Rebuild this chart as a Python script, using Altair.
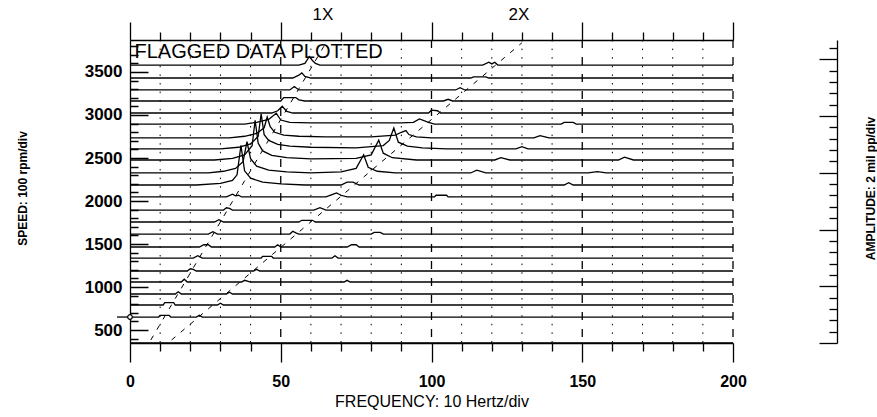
import altair as alt
import pandas as pd

# ---------------- data ----------------
# speed (rpm) of every cascade trace, top to bottom
speeds = [3581, 3430, 3291, 3163, 3023, 2895, 2733, 2605, 2477, 2326,
          2186, 2047, 1895, 1756, 1616, 1465, 1337, 1186, 1058, 919, 791, 651, 349]

# break points of every trace: (frequency Hz, amplitude mil); baseline elsewhere
trace_points = [
    [(56, 0), (58, 0.3), (59.5, 1.5), (60.5, 0.8), (61.5, 0.3), (63, 0),
     (117, 0), (119, 0.5), (120, 0.2), (121, 0.5), (122, 0)],
    [(54, 0), (56, 0.5), (57, 0.9), (58, 0.3), (60, 0),
     (113, 0), (114, 0.2), (118, 0.2), (119, 0)],
    [(53, 0), (54.5, 0.6), (56, 0),
     (108, 0), (109.5, 0.4), (111, 0)],
    [(50, 0), (51, 0.6), (55, 0.6), (56, 0.2), (58, 0),
     (104, 0), (105.5, 0.3), (107, 0)],
    [(47, 0), (49, 0.4), (50.5, 1.2), (52, 0.3), (54, 0),
     (99, 0), (100, 0.5), (102, 0.4), (103, 0)],
    [(38, 0), (42, 0.3), (46, 0.8), (48.5, 1.9), (50, 0.7), (53, 0.3), (60, 0.2),
     (90, 0.2), (94, 0.3), (96, 0.9), (99, 0.3), (101, 0),
     (143, 0), (144, 0.3), (147, 0.3), (148, 0)],
    [(33, 0), (38, 0.3), (42, 0.8), (44.5, 1.8), (45.5, 3.7), (46.5, 2.0), (48, 1.0), (51, 0.5),
     (56, 0.3), (65, 0.2), (80, 0.2), (88, 0.5), (90, 1.0), (91.5, 1.3), (92.5, 0.6), (95, 0.2), (100, 0),
     (134, 0), (136, 0.4), (139, 0)],
    [(30, 0), (36, 0.3), (40, 0.9), (42.5, 2.2), (43.5, 6.2), (44.5, 2.5), (46, 1.5), (49, 0.8),
     (53, 0.5), (60, 0.3), (75, 0.2), (84, 0.6), (86, 1.5), (87.5, 3.7), (89, 1.2), (92, 0.5), (97, 0.2),
     (105, 0), (128, 0), (130, 0.4), (132, 0)],
    [(28, 0), (34, 0.3), (38, 0.9), (40.5, 2.5), (41.5, 7.0), (42.5, 3.0), (44, 1.6), (47, 0.8),
     (52, 0.4), (60, 0.2), (75, 0.3), (80, 0.9), (82.5, 3.5), (84, 1.2), (87, 0.4), (95, 0),
     (121, 0), (123, 0.4), (126, 0), (162, 0), (164, 0.5), (167, 0)],
    [(26, 0), (31, 0.3), (35, 0.8), (37.5, 2.0), (38.8, 5.5), (40, 2.5), (42, 1.2), (46, 0.5),
     (52, 0.2), (60, 0), (70, 0.2), (75, 0.8), (77.5, 3.2), (79, 1.0), (82, 0.3), (88, 0),
     (113, 0), (115, 0.5), (118, 0), (152, 0), (155, 0.25), (158, 0)],
    [(22, 0), (30, 0.3), (34, 0.8), (35.5, 1.8), (36.8, 7.0), (38, 2.5), (40, 1.2), (44, 0.5),
     (50, 0.2), (58, 0), (70, 0), (72, 0.5), (74, 0.5), (76, 0),
     (144, 0), (145.5, 0.4), (147, 0)],
    [(32, 0), (34, 0.5), (35, 0.2), (36, 0.3), (37, 0),
     (65, 0), (67, 0.4), (68.5, 0.7), (70, 0.3), (72, 0),
     (101, 0), (101.5, 0.3), (105, 0.3), (105.5, 0)],
    [(31, 0), (32, 0.4), (33, 0.3), (34, 0), (61, 0), (63, 0.4), (65, 0)],
    [(28, 0), (29.5, 0.4), (31, 0), (56, 0), (57, 0.3), (60.5, 0.3), (61.5, 0)],
    [(26, 0), (27.5, 0.4), (29, 0), (53, 0), (54, 0.5), (55, 0.2), (56, 0),
     (80, 0), (81, 0.3), (83, 0.3), (84, 0)],
    [(23, 0), (24.5, 0.4), (26, 0.4), (27, 0), (48, 0), (49, 0.4), (50, 0),
     (72, 0), (73.5, 0.4), (75, 0.4), (76, 0)],
    [(21, 0), (22.5, 0.4), (24, 0), (43.5, 0), (44, 0.3), (47, 0.3), (47.5, 0),
     (67, 0), (68, 0.4), (69, 0)],
    [(19, 0), (20, 0.4), (21, 0.3), (22, 0), (41, 0), (42, 0.3), (43, 0)],
    [(17, 0), (18, 0.5), (19, 0), (37, 0), (38, 0.3), (40, 0), (71, 0), (72, 0.3), (73, 0)],
    [(15, 0), (16, 0.4), (17, 0), (32, 0), (33, 0.3), (34, 0)],
    [(11, 0), (11.5, 0.4), (14.5, 0.4), (15, 0), (29, 0), (30, 0.3), (31, 0)],
    [(9.5, 0), (10, 0.3), (13, 0.3), (13.5, 0), (22, 0), (23, 0.3), (24, 0)],
    [],
]

# order lines (frequency Hz, speed rpm) at their two ends
order_1x_freq = [6.9, 65.0]
order_1x_speed = [384, 3840]
order_2x_freq = [13.8, 130.0]
order_2x_speed = [384, 3840]

order_labels = ["1X", "2X"]
order_label_freq = [64.0, 129.0]
order_label_speed = [4160, 4160]

# "current speed" marker on the left edge
marker_freq = [0.0]
marker_speed = [651]
marker_stub_freq = [-4.3, 0.0]

grid_minor = [10, 20, 30, 40, 60, 70, 80, 90, 110, 120, 130, 140, 160, 170, 180, 190]
grid_major = [50, 100, 150, 200]
freq_ticks = list(range(0, 201, 10))
speed_labels = [500, 1000, 1500, 2000, 2500, 3000, 3500]
speed_ticks = list(range(400, 3801, 100))
amp_ticks = list(range(0, 53, 2))

SPEED_DOMAIN = [349, 3872]
AMP_DOMAIN = [0, 53.4]
RPM_PER_MIL = 66.0

# ---------------- tables ----------------
rows = []
for i, (s, pts) in enumerate(zip(speeds, trace_points)):
    allp = [(0.0, 0.0)] + sorted(pts) + [(200.0, 0.0)]
    for k, (f, a) in enumerate(allp):
        rows.append({"trace": i, "speed": s, "freq": f, "amp": a, "order": k})
traces = pd.DataFrame(rows)

orders = pd.DataFrame(
    [{"line": "1X", "freq": f, "speed": s, "o": k} for k, (f, s) in enumerate(zip(order_1x_freq, order_1x_speed))]
    + [{"line": "2X", "freq": f, "speed": s, "o": k} for k, (f, s) in enumerate(zip(order_2x_freq, order_2x_speed))]
)

FONT = "Liberation Sans"

x_scale = alt.Scale(domain=[0, 200], nice=False, zero=False)
y_scale = alt.Scale(domain=SPEED_DOMAIN, nice=False, zero=False)

grid_dot = alt.Chart(pd.DataFrame({"freq": grid_minor})).mark_rule(
    color="black", strokeWidth=1, strokeDash=[1.5, 7.1]
).encode(x=alt.X("freq:Q", scale=x_scale, axis=None))

grid_dash = alt.Chart(pd.DataFrame({"freq": grid_major})).mark_rule(
    color="black", strokeWidth=1.3, strokeDash=[8, 9]
).encode(x=alt.X("freq:Q", scale=x_scale, axis=None))

trace_layer = alt.Chart(traces).transform_calculate(
    ypos=f"datum.speed + datum.amp * {RPM_PER_MIL}"
).mark_line(color="black", strokeWidth=1.3, clip=False).encode(
    x=alt.X("freq:Q", scale=x_scale, axis=alt.Axis(
        orient="bottom", values=freq_ticks, grid=False, domain=True, domainColor="black",
        domainWidth=1.3, tickColor="black", tickWidth=1.3,
        tickSize={"condition": {"test": "datum.value % 50 === 0", "value": 19}, "value": 8},
        labelExpr="datum.value % 50 === 0 ? datum.label : ''",
        labelFont=FONT, labelFontSize=16, labelFontWeight="bold", labelColor="black",
        labelPadding=11, labelFlush=False,
        title="FREQUENCY: 10 Hertz/div", titleFont=FONT, titleFontSize=16,
        titleFontWeight="normal", titleColor="black", titlePadding=4,
    )),
    y=alt.Y("ypos:Q", scale=y_scale, axis=alt.Axis(
        orient="left", values=speed_labels, format="d", grid=False, ticks=False, domain=True,
        domainColor="black", domainWidth=1.3,
        labelFont=FONT, labelFontSize=17, labelFontWeight="bold", labelColor="black",
        labelPadding=8,
        title="SPEED: 100 rpm/div", titleFont=FONT, titleFontSize=12, titleFontWeight="bold",
        titleColor="black", titleX=-108, titleY=148, titleAngle=270,
        titleAlign="center", titleBaseline="middle",
    )),
    detail="trace:N",
    order="order:Q",
)

speed_tick_layer = alt.Chart(pd.DataFrame({"speed": speed_ticks})).mark_point(opacity=0).encode(
    x=alt.value(0),
    y=alt.Y("speed:Q", scale=y_scale, axis=alt.Axis(
        orient="right", offset=-603, values=speed_ticks, labels=False, domain=False, grid=False,
        tickColor="black", tickWidth=1.5,
        tickSize={"condition": {"test": "datum.value % 500 === 0", "value": 18}, "value": 8},
        title=None,
    )),
)

amp_layer = alt.Chart(pd.DataFrame({"amp": amp_ticks})).mark_point(opacity=0).encode(
    x=alt.value(0),
    y=alt.Y("amp:Q", scale=alt.Scale(domain=AMP_DOMAIN, nice=False, zero=False), axis=alt.Axis(
        orient="left", offset=-707, values=amp_ticks, labels=False, domain=True,
        domainColor="black", domainWidth=1.3, grid=False,
        tickColor="black", tickWidth=1.3,
        tickSize={"condition": {"test": "datum.value % 10 === 0", "value": 18}, "value": 8},
        title="AMPLITUDE: 2 mil pp/div", titleFont=FONT, titleFontSize=12, titleFontWeight="bold",
        titleColor="black", titleX=33, titleY=148, titleAngle=270,
        titleAlign="center", titleBaseline="middle",
    )),
)

order_layer = alt.Chart(orders).mark_line(
    color="black", strokeWidth=1, strokeDash=[5, 7], clip=False
).encode(
    x=alt.X("freq:Q", scale=x_scale, axis=alt.Axis(
        orient="top", values=freq_ticks, labels=False, grid=False, domain=True,
        domainColor="black", domainWidth=1.3, tickColor="black", tickWidth=1.3,
        tickSize={"condition": {"test": "datum.value % 50 === 0", "value": 18}, "value": 8},
        title=None,
    )),
    y=alt.Y("speed:Q", scale=y_scale, axis=None),
    detail="line:N",
    order="o:Q",
)

marker_stub = alt.Chart(pd.DataFrame({"freq": marker_stub_freq, "speed": marker_speed * 2})).mark_line(
    color="black", strokeWidth=1.3, clip=False
).encode(
    x=alt.X("freq:Q", scale=x_scale, axis=None),
    y=alt.Y("speed:Q", scale=y_scale, axis=None),
)

marker_dot = alt.Chart(pd.DataFrame({"freq": marker_freq, "speed": marker_speed})).mark_point(
    shape="circle", size=22, filled=True, fill="white", stroke="black", strokeWidth=1.2, opacity=1
).encode(
    x=alt.X("freq:Q", scale=x_scale, axis=None),
    y=alt.Y("speed:Q", scale=y_scale, axis=None),
)

flag_text = alt.Chart(pd.DataFrame({"freq": [1.5], "speed": [3735], "t": ["FLAGGED DATA PLOTTED"]})).mark_text(
    align="left", baseline="middle", font=FONT, fontSize=20, color="black"
).encode(
    x=alt.X("freq:Q", scale=x_scale, axis=None),
    y=alt.Y("speed:Q", scale=y_scale, axis=None),
    text="t:N",
)

order_text = alt.Chart(pd.DataFrame({"freq": order_label_freq, "speed": order_label_speed, "t": order_labels})).mark_text(
    align="center", baseline="middle", font=FONT, fontSize=17, color="black", clip=False
).encode(
    x=alt.X("freq:Q", scale=x_scale, axis=None),
    y=alt.Y("speed:Q", scale=y_scale, axis=None),
    text="t:N",
)

chart = alt.layer(
    grid_dot, grid_dash, trace_layer, speed_tick_layer, amp_layer, order_layer,
    marker_stub, marker_dot, flag_text, order_text
).resolve_scale(
    y="independent"
).resolve_axis(
    x="independent", y="independent"
).properties(
    width=603, height=303,
    autosize=alt.AutoSizeParams(type="none"),
    padding={"left": 130, "top": 40, "right": 144, "bottom": 74},
    background="white",
).configure_view(stroke=None)

chart.save("out.html", embed_options={"renderer": "svg", "actions": False})
